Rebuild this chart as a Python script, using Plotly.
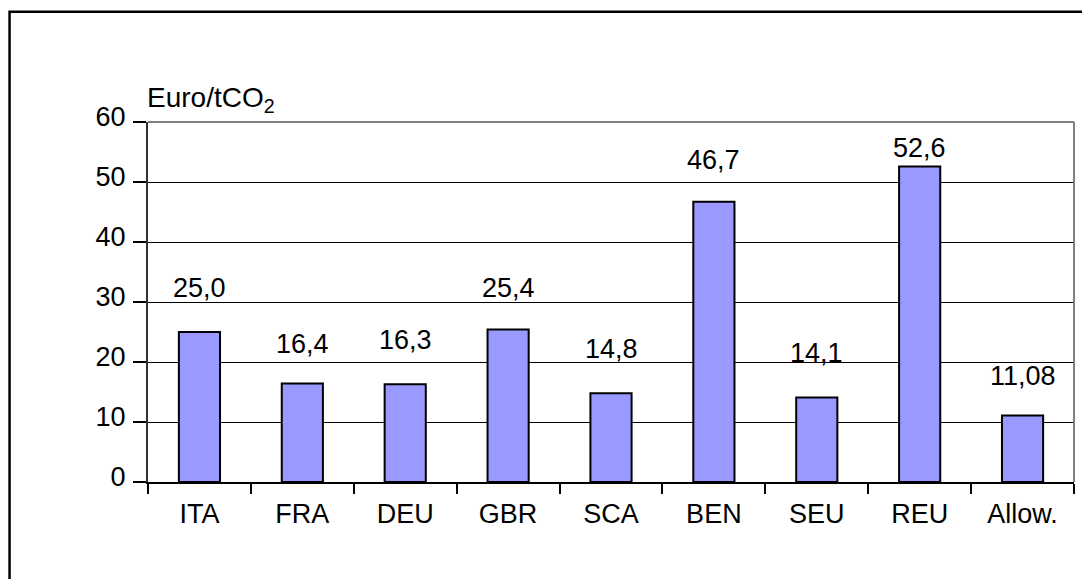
import plotly.graph_objects as go

categories = ["ITA", "FRA", "DEU", "GBR", "SCA", "BEN", "SEU", "REU", "Allow."]
values = [25.0, 16.4, 16.3, 25.4, 14.8, 46.7, 14.1, 52.6, 11.08]
labels = ["25,0", "16,4", "16,3", "25,4", "14,8", "46,7", "14,1", "52,6", "11,08"]
label_shift = [44, 40, 44, 42, 44, 42, 44, 18, 40]
y_ticks = [0, 10, 20, 30, 40, 50, 60]

FONT = "Liberation Sans, Arial, sans-serif"
OFF = 8  # page body margin of the browser

fig = go.Figure(go.Bar(
    x=categories, y=values,
    marker=dict(color="#9999FF", line=dict(color="black", width=2)),
    width=0.4,
))

for c, v, t, s in zip(categories, values, labels, label_shift):
    fig.add_annotation(x=c, y=v, text=t, showarrow=False, yshift=s,
                       font=dict(size=27, color="black", family=FONT))

fig.add_annotation(xref="paper", yref="paper", x=-0.003, y=1.0, xanchor="left",
                   yanchor="bottom", yshift=3,
                   text="Euro/tCO<sub>2</sub>", showarrow=False,
                   font=dict(size=28, color="black", family=FONT))

# plot area top/right border (grey)
fig.add_shape(type="line", xref="paper", yref="paper", x0=0, x1=1, y0=1, y1=1,
              line=dict(color="#808080", width=2))
fig.add_shape(type="line", xref="paper", yref="paper", x0=1, x1=1, y0=0, y1=1,
              line=dict(color="#808080", width=2))
# outer chart frame
fig.add_shape(type="rect", xref="paper", yref="paper", x0=-0.1495, x1=1.2,
              y0=-0.5, y1=1.306, line=dict(color="black", width=2.5))

fig.update_layout(
    width=1090 - OFF, height=579 - OFF,
    margin=dict(l=148 - OFF, r=16, t=122 - OFF, b=97),
    plot_bgcolor="white", paper_bgcolor="white",
    showlegend=False,
    font=dict(family=FONT, size=27, color="black"),
    xaxis=dict(
        type="category", tickson="boundaries", ticks="outside", ticklen=10,
        tickcolor="black", tickwidth=1.5, showline=True, linecolor="black",
        linewidth=1.5, showgrid=False, tickfont=dict(size=27),
        ticklabelstandoff=7,
    ),
    yaxis=dict(
        range=[0, 60], tickvals=y_ticks, ticks="outside", ticklen=13,
        tickcolor="black", tickwidth=1.5, showline=True, linecolor="#333333",
        linewidth=2, showgrid=True, gridcolor="black", gridwidth=1,
        zeroline=False, tickfont=dict(size=27), ticklabelstandoff=2,
        ticklabelshift=-5,
    ),
)

fig.write_html("out.html")
